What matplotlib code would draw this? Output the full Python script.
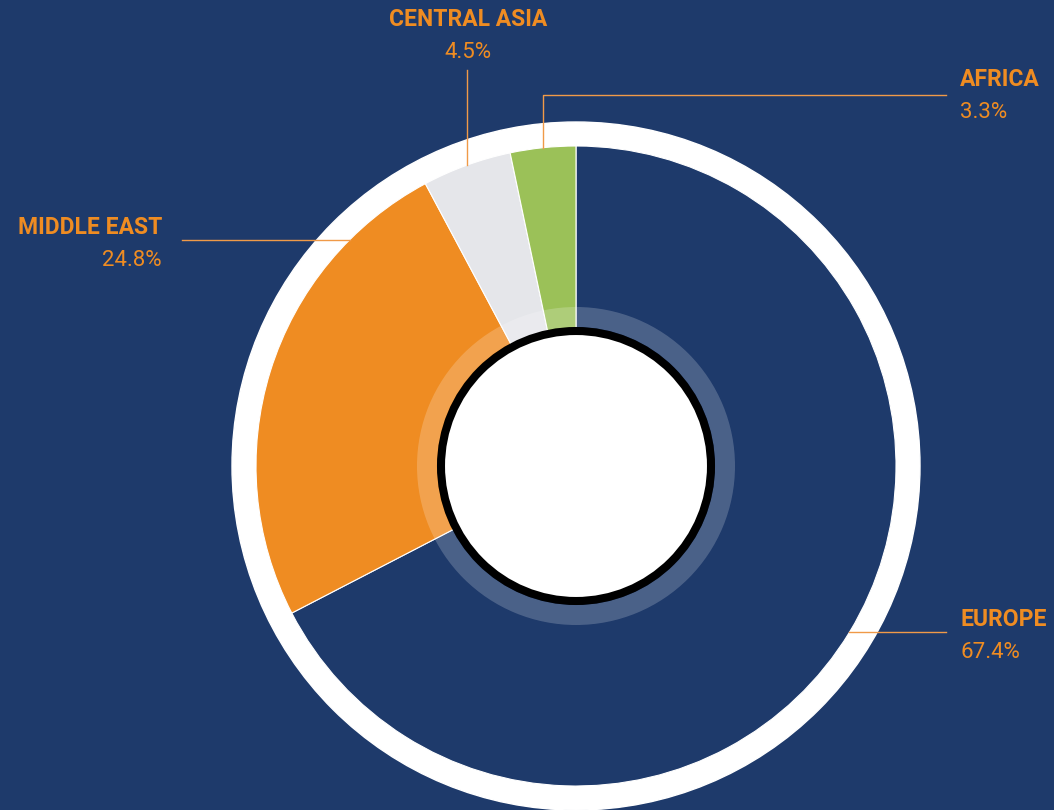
import numpy as np
import matplotlib.pyplot as plt
from matplotlib.patches import Circle, Wedge

# data
regions = ['EUROPE', 'MIDDLE EAST', 'CENTRAL ASIA', 'AFRICA']
shares = [67.4, 24.8, 4.5, 3.3]
colors = ['#1E3A6B', '#EF8C22', '#E5E6EA', '#9BC158']

bg = '#1E3A6B'
orange = '#EF8C22'
W, H = 1054, 810
cx, cy = 576, H - 466
R = 320

plt.rcParams['font.family'] = ['Roboto', 'DejaVu Sans']

fig = plt.figure(figsize=(W / 100, H / 100), dpi=100, facecolor=bg)
ax = fig.add_axes([0, 0, 1, 1])
ax.set_facecolor(bg)

# outer white ring
ax.add_patch(Circle((cx, cy), 344, color='white', zorder=1))

wedges, _ = ax.pie(shares, colors=colors, startangle=90, counterclock=False,
                   radius=R, center=(cx, cy), frame=True,
                   wedgeprops=dict(edgecolor='white', linewidth=0.8))
for w in wedges:
    w.set_zorder(2)
ax.set_xlim(0, W)
ax.set_ylim(0, H)
ax.set_aspect('equal')
ax.axis('off')

# translucent inner ring + hole
ax.add_patch(Wedge((cx, cy), 159, 0, 360, width=20, facecolor='white',
                   alpha=0.2, edgecolor='none', zorder=3))
ax.add_patch(Circle((cx, cy), 135, facecolor='white', edgecolor='black',
                    linewidth=5.8, zorder=4))

# label anchors
cum = np.cumsum([0] + shares[:-1])
mids = [90 - (c + s / 2) * 3.6 for c, s in zip(cum, shares)]
mids[1] = 135  # middle east leader sits higher
lc = '#F09A48'
lw = 1.0

def pt(a, r=R):
    return cx + r * np.cos(np.radians(a)), cy + r * np.sin(np.radians(a))

# europe
x0, y0 = pt(mids[0])
ax.plot([x0, 946], [y0, y0], color=lc, lw=lw, zorder=5)
# middle east
x0, y0 = pt(mids[1])
ax.plot([182, x0], [y0, y0], color=lc, lw=lw, zorder=5)
# central asia
x0, y0 = pt(mids[2])
ax.plot([x0, x0], [y0, H - 70], color=lc, lw=lw, zorder=5)
# africa
x0, y0 = pt(mids[3])
ax.plot([x0, x0, 946], [y0, H - 95, H - 95], color=lc, lw=lw, zorder=5)

text_pos = [(960, 620, 'left'), (162, 228, 'right'),
            (468, 20, 'center'), (960, 80, 'left')]
for name, s, (tx, ty, ha) in zip(regions, shares, text_pos):
    ax.text(tx, H - ty, name, color=orange, fontsize=16.5, fontweight='bold',
            ha=ha, va='center', zorder=6)
    ax.text(tx, H - ty - 32, f'{s}%', color=orange, fontsize=16,
            fontweight='normal', ha=ha, va='center', zorder=6)

fig.savefig('out.png', dpi=100, facecolor=bg)
